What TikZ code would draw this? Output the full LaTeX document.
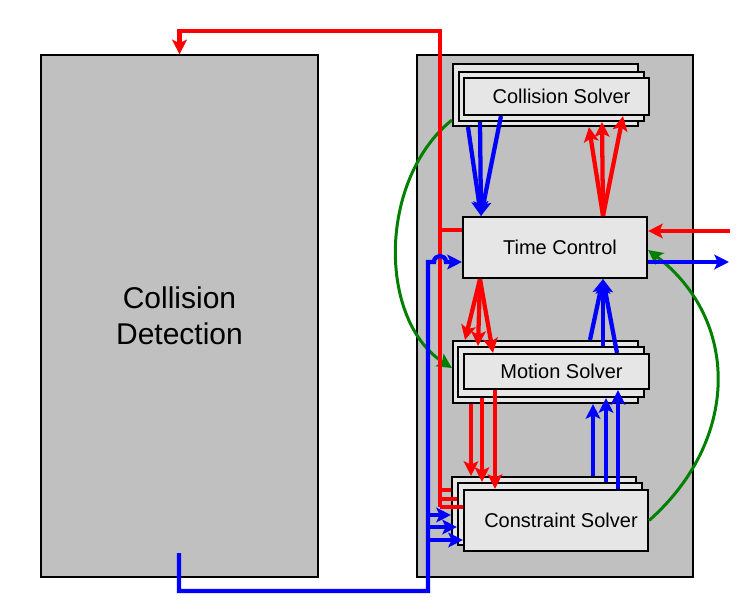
\documentclass[tikz,border=0pt]{standalone}
\usepackage{fontspec}
\setmainfont{Liberation Sans}
\usetikzlibrary{arrows.meta,calc}
\definecolor{bg}{HTML}{C0C0C0}
\definecolor{boxfill}{HTML}{E6E6E6}
\definecolor{lnred}{HTML}{FF0000}
\definecolor{lnblue}{HTML}{0000FF}
\definecolor{lngreen}{HTML}{008000}
\begin{document}
\begin{tikzpicture}[x=0.75pt,y=-0.75pt,
  container/.style={draw=black,fill=bg,line width=0.9pt,inner sep=0pt},
  sbox/.style 2 args={draw=black,fill=boxfill,line width=1.6pt,inner sep=0pt,
    minimum width=#1*0.75pt,minimum height=#2*0.75pt},
  lbl/.style={font=\fontsize{15pt}{18pt}\selectfont,
    execute at begin node={\hspace*{7.5pt}}},
  arr/.style={-{Stealth[length=11pt,width=11pt,inset=2.5pt]}},
  rl/.style={draw=lnred,line width=3.2pt},
  bl/.style={draw=lnblue,line width=3.2pt},
  gl/.style={draw=lngreen,line width=2.25pt}]
\useasboundingbox (0,0) rectangle (739,611);

% containers
\node[container,minimum width=277*0.75pt,minimum height=522*0.75pt,align=center,
  font=\fontsize{22.5pt}{27pt}\selectfont] (cd) at (179.5,316) {Collision\\Detection};
\node[container,minimum width=276*0.75pt,minimum height=522*0.75pt] (sys) at (555,316) {};

% Collision Solver stack
\node[sbox={185}{62}] (csb) at (545.5,95) {};
\node[sbox={185}{49}] (csm) at (551.5,96.5) {};
\node[sbox={185}{37},lbl] (csf) at (556.5,96.5) {Collision Solver};
% Time Control
\node[sbox={184}{61},lbl] (tc) at (555,247.5) {Time Control};
% Motion Solver stack
\node[sbox={185}{62}] (msb) at (545.5,372) {};
\node[sbox={186}{50}] (msm) at (551,372) {};
\node[sbox={185}{35},lbl] (msf) at (556.5,371.5) {Motion Solver};
% Constraint Solver stack
\node[sbox={184}{62}] (cnb) at (544,508) {};
\node[sbox={184}{62}] (cnm) at (550,514) {};
\node[sbox={184}{61},lbl] (cnf) at (556,520.5) {Constraint Solver};

% green
\draw[gl,arr] (csb.west |- 0,120) .. controls (378,180) and (378,320) .. (msb.west |- 0,368);
\draw[gl,arr] (cnf.east) .. controls (740,440) and (740,320) .. (tc.east |- 0,250);

% red
\coordinate (rb) at (440,507);
\draw[rl,arr] (rb) -- (440,31) -- (cd.north |- 0,31) -- (cd.north);
\draw[rl] (440,230) -- (tc.west |- 0,230);
\draw[rl] (440,490) -- (cnb.west |- 0,490);
\draw[rl] (440,499) -- (cnm.west |- 0,499);
\draw[rl] (rb) -- (cnf.west |- rb);

\draw[rl,arr] (603,0 |- tc.north) -- (589,0 |- csb.south);
\draw[rl,arr] (603,0 |- tc.north) -- (602,0 |- csm.south);
\draw[rl,arr] (603,0 |- tc.north) -- (623,0 |- csf.south);

\draw[rl,arr] (480,0 |- tc.south) -- (465,0 |- msb.north);
\draw[rl,arr] (480,0 |- tc.south) -- (478,0 |- msm.north);
\draw[rl,arr] (480,0 |- tc.south) -- (493,0 |- msf.north);

\draw[rl,arr] (471,0 |- msb.south) -- (471,0 |- cnb.north);
\draw[rl,arr] (482,0 |- msm.south) -- (482,0 |- cnm.north);
\draw[rl,arr] (495,0 |- msf.south) -- (495,0 |- cnf.north);

\coordinate (rin) at (730,231);
\draw[rl,arr] (rin) -- (tc.east |- rin);

% blue
\coordinate (bs) at (179,553);
\draw[bl,arr] (bs) -- (179,591) -- (428,591) -- (428,262) -- (434,262)
  .. controls (434,254) and (446,254) .. (446,262) -- (tc.west |- 0,262);
\draw[bl,arr] (428,515) -- (cnb.west |- 0,515);
\draw[bl,arr] (428,527) -- (cnm.west |- 0,527);
\draw[bl,arr] (428,540) -- (cnf.west |- 0,540);

\draw[bl,arr] (468,0 |- csb.south) -- (481,0 |- tc.north);
\draw[bl,arr] (480,0 |- csm.south) -- (481,0 |- tc.north);
\draw[bl,arr] (501,0 |- csf.south) -- (481,0 |- tc.north);

\draw[bl,arr] (590,0 |- msb.north) -- (603,0 |- tc.south);
\draw[bl,arr] (603,0 |- msm.north) -- (603,0 |- tc.south);
\draw[bl,arr] (617,0 |- msf.north) -- (603,0 |- tc.south);

\draw[bl,arr] (593,0 |- cnb.north) -- (593,0 |- msb.south);
\draw[bl,arr] (606,0 |- cnm.north) -- (606,0 |- msm.south);
\draw[bl,arr] (618,0 |- cnf.north) -- (618,0 |- msf.south);

\coordinate (bout) at (729,262);
\draw[bl,arr] (tc.east |- 0,262) -- (bout);
\end{tikzpicture}
\end{document}
